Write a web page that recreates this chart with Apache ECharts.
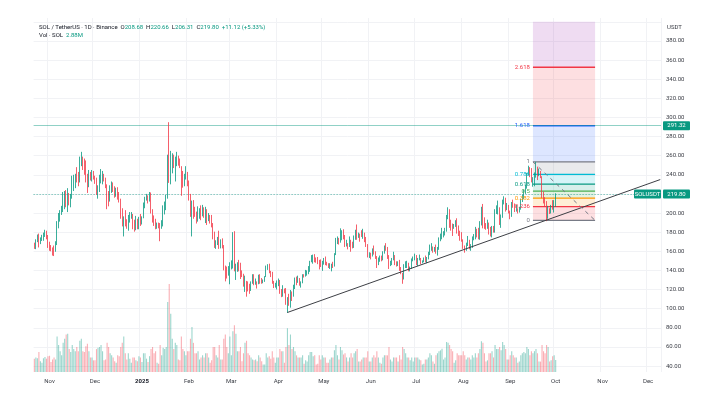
<!DOCTYPE html>
<html><head><meta charset="utf-8">
<script src="https://cdn.jsdelivr.net/npm/echarts@6/dist/echarts.min.js"></script>
<style>html,body{margin:0;padding:0;background:#fff}#c{width:704px;height:396px}</style>
</head><body><div id="c"></div>
<script>
// ---------- axis / tick data ----------
const startDate = '2024-10-22';
const endDate = '2025-12-09';
const tickDates = ['2024-11-01','2024-12-01','2025-01-01','2025-02-01','2025-03-01','2025-04-01','2025-05-01','2025-06-01','2025-07-01','2025-08-01','2025-09-01','2025-10-01','2025-11-01','2025-12-01'];
const tickLabels = ['Nov','Dec','2025','Feb','Mar','Apr','May','Jun','Jul','Aug','Sep','Oct','Nov','Dec'];

// ---------- daily candles SOL/USDT (from 2024-10-22) ----------
const firstOpen = 167.0;
const closes = [
166.2,171.4,175.5,169.5,172.3,175.8,178.0,179.6,175.0,166.5,
164.5,162.5,161.8,160.5,168.0,187.5,196.0,200.5,205.0,212.5,218.5,211.0,213.0,211.5,217.5,232.0,235.0,238.0,236.5,235.0,256.0,256.5,253.0,247.0,235.5,230.5,242.0,236.5,240.5,237.0,
235.5,224.5,226.0,236.0,238.5,239.0,235.0,229.0,215.0,212.0,226.0,227.0,224.0,221.0,225.0,217.0,213.0,197.0,193.0,195.5,189.5,187.0,196.0,198.0,198.0,189.0,183.5,194.0,185.5,191.0,189.5,
195.5,207.0,215.5,218.0,213.5,219.5,202.0,195.0,189.0,187.5,187.5,187.0,185.5,188.0,206.0,206.5,217.5,257.5,239.5,253.0,255.5,249.0,253.0,256.0,253.5,248.5,236.5,229.5,239.5,241.0,231.0,
214.0,203.0,210.0,201.0,199.5,191.0,197.0,203.5,202.0,203.5,197.0,205.0,193.0,196.5,193.0,188.0,177.5,168.5,170.0,173.0,165.5,172.0,165.5,141.5,138.5,136.0,138.5,148.0,
148.5,178.0,142.5,143.0,145.5,141.0,138.0,135.5,125.0,126.0,125.5,125.0,120.5,127.0,133.5,126.0,128.0,126.0,134.0,131.0,127.5,129.5,133.5,142.5,144.0,138.0,137.5,127.5,124.5,124.5,125.0,
128.5,117.0,116.5,120.5,120.0,106.0,106.5,105.0,117.5,113.5,124.0,131.0,127.5,129.5,124.5,127.5,135.0,134.0,139.0,139.5,140.0,148.5,151.0,154.5,151.5,150.0,148.5,146.5,146.0,147.5,
151.5,148.0,146.0,144.0,145.0,146.0,145.0,156.5,171.0,172.0,170.5,175.0,180.0,175.5,166.5,168.0,165.5,172.5,167.5,166.5,173.0,180.0,175.0,177.5,177.0,176.5,178.5,171.0,166.0,156.0,157.0,
156.0,161.5,157.5,153.5,147.0,151.0,155.0,152.5,159.0,165.0,164.0,156.0,146.5,147.5,152.0,155.0,148.0,146.0,147.5,141.5,137.5,134.0,145.0,145.0,145.5,140.5,142.5,151.5,153.0,155.0,
147.5,151.5,152.0,149.0,150.0,152.5,150.5,153.5,158.0,164.0,165.0,161.0,163.0,160.5,163.5,172.5,176.0,177.5,178.0,182.0,196.5,203.0,189.5,186.5,185.0,186.5,191.0,180.5,179.5,176.0,171.5,
163.5,162.0,167.0,171.0,164.5,165.5,173.5,174.5,182.0,178.5,174.5,189.5,200.5,190.5,187.0,185.0,189.0,182.5,177.5,184.0,182.0,201.5,204.5,204.5,189.0,196.5,211.5,214.5,206.0,207.5,201.0,
197.5,210.0,209.0,204.0,204.0,201.0,205.0,213.5,216.5,222.0,227.0,240.5,245.5,240.0,235.5,235.5,238.5,245.5,242.0,242.0,238.5,220.5,214.5,212.5,201.5,202.0,201.5,208.0,207.5,208.68,
219.80];
const highs = [
169.0,172.5,177.5,178.5,174.5,177.2,179.5,182.5,181.5,177.0,
170.0,166.5,164.0,166.0,170.5,191.5,200.0,203.0,207.5,222.0,223.0,224.0,226.0,221.0,220.0,239.0,240.0,241.0,248.0,243.0,259.0,264.0,259.0,257.0,255.0,241.0,245.0,243.0,245.0,244.0,
239.0,237.0,229.0,240.0,246.0,244.0,241.0,237.0,230.0,223.0,229.0,233.0,232.0,228.0,226.5,227.0,222.0,215.0,205.0,196.5,203.0,193.5,198.0,201.0,201.0,199.0,193.0,197.0,194.0,196.0,199.0,
196.5,211.0,217.0,220.0,218.5,222.0,221.5,204.0,197.5,194.0,190.0,190.0,189.5,192.5,208.0,212.0,219.0,261.0,295.0,265.0,262.5,261.0,259.0,264.0,260.0,257.0,249.0,244.0,241.0,249.0,243.0,
234.0,220.0,213.0,213.5,206.5,201.5,207.0,205.0,208.0,208.5,206.0,206.5,204.0,200.0,198.0,198.0,189.5,180.5,171.5,175.0,181.5,172.5,173.5,166.5,145.0,144.0,144.5,148.5,
150.5,180.0,181.0,147.0,148.5,151.0,148.0,140.0,136.5,134.5,129.0,128.5,126.0,128.5,136.0,136.0,131.5,128.5,135.5,136.0,132.0,130.5,134.0,145.0,146.5,147.0,139.5,138.5,129.0,127.0,129.5,
131.5,130.0,120.5,124.5,121.0,121.5,112.0,115.5,119.5,118.0,125.0,132.5,133.5,134.5,132.0,128.5,136.0,136.0,140.5,140.0,144.5,150.0,156.0,156.5,157.0,153.5,154.0,151.0,151.5,150.0,
153.0,154.5,149.0,147.5,147.5,147.0,149.0,158.0,174.0,175.5,174.0,184.0,182.0,183.0,177.0,172.0,168.5,175.5,172.0,170.0,176.5,182.5,188.0,179.5,178.5,182.0,183.5,179.5,175.0,167.5,159.0,
158.5,163.0,166.0,160.0,155.0,153.5,155.5,155.5,160.0,166.0,168.5,164.5,156.0,150.0,153.0,159.5,156.0,149.5,149.5,151.0,143.5,137.5,146.5,149.5,150.0,148.0,144.0,152.5,154.5,157.5,
156.0,153.0,156.5,153.0,150.5,153.5,155.5,154.0,159.5,167.0,168.5,165.0,164.5,167.0,164.5,174.5,178.5,184.5,181.0,184.5,198.0,206.0,204.0,193.0,189.0,188.5,192.5,194.5,187.0,181.5,180.0,
172.5,166.0,169.0,176.0,172.0,167.5,175.5,178.0,185.5,183.5,184.5,191.5,206.5,209.5,195.5,189.5,193.0,190.0,185.5,186.5,186.5,204.0,208.0,213.0,206.0,198.5,214.0,217.5,216.0,210.5,208.5,
202.5,211.5,214.0,210.0,208.5,205.0,206.5,215.0,219.5,224.5,229.5,242.0,249.5,248.0,247.0,237.5,242.5,253.5,248.5,246.5,244.0,238.5,222.5,216.5,212.5,207.5,205.0,208.5,213.5,213.5,
220.66];
const lows = [
162.5,162.2,169.5,164.0,167.5,170.8,171.0,175.0,172.5,163.5,
160.5,160.0,155.5,155.0,159.5,166.5,184.0,191.0,198.0,201.0,204.0,206.0,201.0,208.0,206.0,215.0,223.0,226.0,232.0,228.0,232.0,249.0,245.0,240.0,232.0,221.0,227.0,234.0,233.0,235.0,
230.5,219.0,215.0,222.0,231.0,230.0,233.0,226.0,204.0,207.0,212.0,221.0,222.0,216.0,217.0,214.0,211.0,194.0,186.0,175.5,186.0,183.5,181.5,190.0,194.0,183.0,180.5,182.0,183.0,183.0,186.5,
188.0,194.5,205.0,213.0,210.0,212.0,199.5,190.0,186.5,183.0,183.5,184.0,170.5,183.5,186.0,198.5,203.0,215.0,231.5,230.0,241.5,247.0,233.0,249.0,249.5,247.0,218.0,226.5,228.0,235.0,228.0,
213.0,196.0,175.5,194.0,196.0,189.0,191.0,194.0,192.5,196.5,195.0,189.5,187.5,191.5,189.0,185.0,172.5,163.5,162.5,166.5,162.5,163.0,163.0,140.0,128.5,131.5,134.5,125.5,
141.0,142.0,139.0,130.0,138.5,139.0,131.0,133.0,123.0,117.5,112.5,118.0,115.5,118.5,126.0,124.5,125.0,121.0,125.5,126.0,126.0,126.5,128.0,133.0,140.5,137.0,133.0,126.0,121.5,122.0,120.0,
123.5,115.5,112.0,112.5,116.0,104.0,95.5,103.0,101.0,108.0,112.5,120.5,124.5,127.0,124.0,122.0,126.5,132.5,133.5,134.5,136.0,138.5,148.5,147.0,148.5,148.0,146.5,141.0,143.5,139.5,
146.0,145.5,145.0,142.5,141.5,139.0,142.5,144.0,156.0,167.5,167.0,169.0,171.5,172.5,164.5,165.0,162.0,164.5,159.5,163.0,163.5,172.0,172.0,174.0,170.0,175.0,173.0,169.5,164.5,153.5,153.0,
151.5,154.5,156.5,152.0,142.5,145.5,149.0,149.5,150.5,157.5,160.5,152.0,141.5,144.5,145.5,150.5,145.5,144.0,144.5,139.5,136.0,126.0,130.5,142.5,142.5,139.0,139.0,141.5,149.5,150.5,
145.5,144.5,150.5,146.5,147.5,148.5,148.5,147.5,151.5,156.0,160.5,158.5,159.5,157.5,155.5,161.5,170.5,172.5,174.5,176.5,180.5,193.5,184.5,181.5,176.0,183.5,185.5,178.5,176.0,171.0,170.0,
162.5,158.5,160.5,165.5,162.0,160.5,163.5,171.5,172.5,174.5,172.5,172.0,187.0,184.0,183.5,182.5,183.5,177.5,175.5,174.5,179.5,179.5,199.0,198.5,187.5,184.5,195.0,209.0,201.5,203.0,199.5,
193.5,196.0,205.5,201.0,201.5,199.5,200.5,203.5,211.5,214.5,220.0,225.5,239.5,237.5,232.0,227.5,228.0,237.0,234.5,238.5,236.5,215.5,210.0,207.0,191.5,194.0,199.0,199.5,203.5,200.5,
206.31];
// volume, millions of SOL
const volumes = [
3.2,3.5,3.3,4.8,2.6,2.2,3.3,3.6,3.2,3.8,
3.9,2.4,3.0,3.5,3.0,8.5,6.5,5.0,4.0,7.0,8.0,9.0,9.2,5.5,4.8,6.5,5.5,5.0,6.0,5.0,7.5,8.0,5.0,4.8,6.2,6.8,5.0,3.5,3.5,2.8,
2.8,5.5,5.8,6.0,6.5,5.0,2.8,3.0,7.0,6.0,4.5,4.0,3.5,2.6,2.2,4.0,3.8,6.0,7.0,8.5,4.5,3.0,4.5,3.2,2.2,3.5,3.5,2.8,2.6,3.8,3.5,
2.4,4.5,4.5,3.2,2.4,3.8,5.5,6.0,4.5,5.0,2.2,2.0,6.5,4.0,5.8,5.5,6.0,16.8,21.1,14.0,8.0,5.5,7.0,6.5,3.0,2.8,8.5,5.5,5.0,4.0,5.0,
5.0,8.0,10.8,7.0,4.5,4.5,5.0,3.0,3.5,4.0,3.5,4.5,4.5,3.5,2.2,2.8,6.0,6.0,4.0,3.5,6.5,3.0,3.0,8.0,9.0,6.0,4.5,8.5,
4.0,9.8,11.2,9.2,5.0,5.0,6.0,2.6,4.5,7.0,7.5,4.5,4.0,3.5,3.0,2.8,3.0,2.6,4.0,3.5,2.6,1.8,1.8,4.5,3.5,3.8,3.2,5.0,3.5,2.2,3.5,
3.5,5.5,5.0,5.0,2.2,6.0,10.5,6.5,9.0,5.5,6.0,5.0,4.0,3.5,3.5,3.5,4.0,2.0,2.8,2.5,4.0,4.8,4.8,3.8,4.0,1.8,2.0,4.0,3.0,4.0,
3.5,3.5,2.2,2.2,3.0,3.5,3.5,5.2,6.5,4.0,3.0,6.0,5.2,4.2,4.5,3.5,2.5,3.5,4.5,3.5,4.5,5.0,5.5,2.5,2.5,3.0,3.5,3.5,3.5,5.0,2.5,
2.5,3.5,4.0,3.5,5.0,3.5,2.2,2.0,3.5,4.0,4.0,4.0,6.0,3.0,2.5,3.5,3.5,3.5,2.5,4.0,3.0,6.0,5.5,4.5,3.5,3.5,2.8,3.5,2.5,3.5,
3.5,3.5,3.0,2.8,1.8,2.0,3.0,3.0,3.5,4.5,4.0,2.5,2.0,4.0,4.5,5.0,5.2,5.6,3.0,3.5,7.2,7.0,6.5,5.5,5.0,2.2,2.8,4.5,4.0,4.0,4.0,
5.0,4.0,3.0,3.5,3.5,3.0,4.0,3.5,4.5,3.5,4.5,5.5,7.4,7.0,4.5,2.5,2.8,4.5,4.5,5.0,3.5,6.5,5.5,5.5,6.0,5.2,7.2,6.5,5.5,3.0,3.0,
4.0,5.0,4.0,3.5,3.5,2.2,2.5,4.0,4.5,4.8,4.5,6.0,5.5,4.0,5.0,4.5,5.0,5.5,4.5,2.5,2.5,6.5,5.0,4.5,6.5,6.0,2.5,2.8,3.8,4.0,
2.88];

// ---------- drawings ----------
const hLinePrice = 291.32;
const lastPrice = 219.80;
const fibStart = '2025-09-16', fibEnd = '2025-10-27';
const fibLow = 192.3, fibHigh = 253.5;
const fibLevels = [0, 0.236, 0.382, 0.5, 0.618, 0.786, 1, 1.618, 2.618, 3.618];
const fibColors = ['#787b86','#f23645','#ff9800','#4caf50','#089981','#00bcd4','#787b86','#2962ff','#f23645','#9c27b0'];
const trendStart = ['2025-04-07', 96];
const trendEnd = ['2025-12-09', 235];
const yMin = 40, yMax = 400, yStep = 20;

// ---------- build ----------
const UP = '#089981', DOWN = '#f23645';
const FONT = 'Roboto';
const categories = [];
{
  const d = new Date(startDate + 'T00:00:00Z'), e = new Date(endDate + 'T00:00:00Z');
  while (d <= e) { categories.push(d.toISOString().slice(0,10)); d.setUTCDate(d.getUTCDate()+1); }
}
const opens = [firstOpen].concat(closes.slice(0, -1)); // daily open = previous close
const candleData = closes.map((c, i) => [opens[i], c, lows[i], highs[i]]);
const volData = volumes.map((v, i) => ({
  value: v,
  itemStyle: { color: closes[i] >= opens[i] ? 'rgba(8,153,129,0.4)' : 'rgba(242,54,69,0.4)' }
}));
const isTick = (v) => tickDates.indexOf(v) >= 0;

const fibPrice = (lv) => fibLow + lv * (fibHigh - fibLow);
const fibAreas = [];
for (let i = 1; i < fibLevels.length; i++) {
  const lo = fibPrice(fibLevels[i-1]);
  const hi = Math.min(fibPrice(fibLevels[i]), yMax);
  fibAreas.push([{ coord: [fibStart, lo], itemStyle: { color: fibColors[i], opacity: 0.16 } }, { coord: [fibEnd, hi] }]);
}
const lineSeries = (data, style, z) => ({
  type: 'line', xAxisIndex: 0, yAxisIndex: 0, data: data, symbol: 'none', silent: true,
  lineStyle: style, z: z || 6, animation: false
});
const fibSeries = [];
fibLevels.forEach((lv, i) => {
  const p = fibPrice(lv);
  if (p > yMax) return;
  fibSeries.push(lineSeries([[fibStart, p], [fibEnd, p]], { color: fibColors[i], width: (lv === 1.618 || lv === 2.618) ? 1.5 : 1.2 }, 4));
});

const chart = echarts.init(document.getElementById('c'));
const gridL = 33.6, gridR = 43;
chart.setOption({
  animation: false,
  backgroundColor: '#ffffff',
  textStyle: { fontFamily: FONT },
  grid: [
    { left: gridL, right: gridR, top: 21.8, bottom: 30 },
    { left: gridL, right: gridR, top: 18, bottom: 24 }
  ],
  xAxis: [
    { type: 'category', gridIndex: 0, data: categories, boundaryGap: true,
      axisLine: { show: false }, axisTick: { show: false }, axisLabel: { show: false }, splitLine: { show: false } },
    { type: 'category', gridIndex: 1, data: categories, boundaryGap: true,
      axisLine: { show: false }, axisTick: { show: false },
      axisLabel: { interval: (i, v) => isTick(v), margin: 6, fontSize: 6, color: '#3a3d45', fontFamily: FONT,
        formatter: (v) => { const k = tickDates.indexOf(v); if (k < 0) return ''; return tickLabels[k] === '2025' ? '{b|2025}' : tickLabels[k]; },
        rich: { b: { fontWeight: 'bold', fontSize: 6, color: '#131722', fontFamily: FONT } } },
      splitLine: { show: true, interval: (i, v) => isTick(categories[i+1] || ''), lineStyle: { color: '#f1f2f5', width: 1 } } }
  ],
  yAxis: [
    { type: 'value', gridIndex: 0, position: 'right', min: yMin, max: yMax, interval: yStep,
      axisLine: { show: false }, axisTick: { show: false },
      axisLabel: { margin: 5, fontSize: 6, color: '#3a3d45', fontFamily: FONT, formatter: (v) => v >= yMax ? '' : v.toFixed(2) },
      splitLine: { show: true, lineStyle: { color: '#f1f2f5', width: 1 } } },
    { type: 'value', gridIndex: 1, min: 0, max: 85, show: false, splitLine: { show: false } }
  ],
  series: [
    { type: 'bar', name: 'Vol', xAxisIndex: 1, yAxisIndex: 1, data: volData, barWidth: 1.1, silent: true, z: 1 },
    { type: 'candlestick', name: 'SOLUSDT', xAxisIndex: 0, yAxisIndex: 0, data: candleData, barWidth: 1.3, z: 5,
      itemStyle: { color: UP, color0: DOWN, borderColor: UP, borderColor0: DOWN, borderWidth: 0.8 },
      markArea: { silent: true, data: fibAreas }
    },
    Object.assign(lineSeries([trendStart, trendEnd], { color: '#3d3f45', width: 1 }, 7), {
      markLine: { silent: true, symbol: ['none','none'], label: { show: false },
        lineStyle: { color: 'rgba(8,153,129,0.45)', width: 1, type: 'solid' }, data: [{ yAxis: hLinePrice }] }
    }),
    Object.assign(lineSeries([[fibStart, fibHigh], [fibEnd, fibLow]], { color: '#787b86', width: 1, type: [4, 4] }, 7), {
      markLine: { silent: true, symbol: ['none','none'], label: { show: false },
        lineStyle: { color: 'rgba(8,153,129,0.7)', width: 1, type: [1, 2] }, data: [{ yAxis: lastPrice }] }
    })
  ].concat(fibSeries)
});

// price tags, fib labels and header
const yH = chart.convertToPixel({ yAxisIndex: 0 }, hLinePrice);
const yL = chart.convertToPixel({ yAxisIndex: 0 }, lastPrice);
const xFib = chart.convertToPixel({ xAxisIndex: 0 }, fibStart);
const tagX = 704 - gridR + 2;
function tag(x, y, w, txt) {
  return [
    { type: 'rect', z: 100, shape: { x: x, y: y - 4.5, width: w, height: 9, r: 1 }, style: { fill: UP } },
    { type: 'text', z: 101, style: { text: txt, x: x + w / 2, y: y, fill: '#fff', font: '6px ' + FONT, align: 'center', verticalAlign: 'middle' } }
  ];
}
const fibLabels = [];
fibLevels.forEach((lv, i) => {
  const p = fibPrice(lv);
  if (p > yMax) return;
  fibLabels.push({ type: 'text', z: 90, style: { text: String(lv), x: xFib - 3, y: chart.convertToPixel({ yAxisIndex: 0 }, p),
    fill: fibColors[i], font: '6px ' + FONT, align: 'right', verticalAlign: 'middle' } });
});
chart.setOption({
  graphic: [].concat(
    fibLabels,
    tag(tagX, yH, 27, hLinePrice.toFixed(2)),
    tag(tagX, yL, 27, lastPrice.toFixed(2)),
    tag(tagX - 29, yL, 27, 'SOLUSDT'),
    [
      { type: 'text', z: 100, style: { text: 'USDT', x: 667, y: 27, fill: '#3a3d45', font: '6px ' + FONT, verticalAlign: 'middle' } },
      { type: 'text', z: 100, style: {
          x: 39, y: 27, verticalAlign: 'middle', font: '6px ' + FONT,
          text: '{a|SOL / TetherUS · 1D · Binance}  {a|O}{v|208.68}  {a|H}{v|220.66}  {a|L}{v|206.31}  {a|C}{v|219.80}  {v|+11.12 (+5.33%)}',
          rich: { a: { fill: '#131722', font: '6px ' + FONT }, v: { fill: UP, font: '6px ' + FONT } } } },
      { type: 'text', z: 100, style: {
          x: 39, y: 35.5, verticalAlign: 'middle', font: '6px ' + FONT,
          text: '{a|Vol · SOL}  {v|2.88M}',
          rich: { a: { fill: '#131722', font: '6px ' + FONT }, v: { fill: UP, font: '6px ' + FONT } } } }
    ]
  )
});
</script>
</body></html>
